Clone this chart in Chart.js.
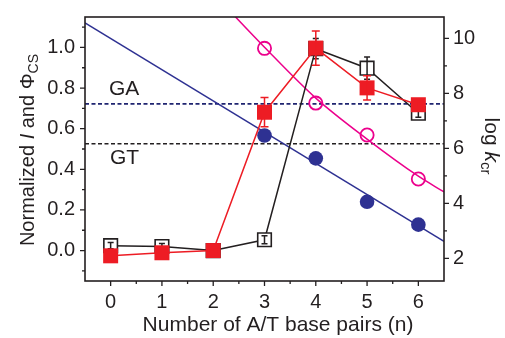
<!DOCTYPE html>
<html><head><meta charset="utf-8">
<script src="https://cdn.jsdelivr.net/npm/chart.js@4.4.0/dist/chart.umd.min.js"></script>
<style>html,body{margin:0;padding:0;background:#fff;} #wrap{width:505px;height:338px;position:relative;}</style>
</head><body><div id="wrap"><canvas id="c"></canvas></div>
<script>
// ---- data ----
const nValues = [0, 1, 2, 3, 4, 5, 6];
const normI = [0.024, 0.02, 0.0, 0.053, 0.994, 0.898, 0.676];
const normIErr = [0.015, 0.015, 0.01, 0.02, 0.05, 0.055, 0.02];
const phiCS = [-0.026, -0.011, 0.0, 0.681, 0.997, 0.801, 0.718];
const phiCSErr = [0, 0, 0.005, 0.072, 0.084, 0.06, 0.015];
const nK = [3, 4, 5, 6];
const logKcrBlue = [6.47, 5.64, 4.06, 3.23];
const logKcrMagenta = [9.64, 7.65, 6.49, 4.89];
const fitBlueX = [-0.5, 6.5];
const fitBlue = [10.57, 2.62];
const fitMagX = [2.0, 3, 4, 5, 6, 6.5];
const fitMagenta = [11.64, 9.68, 7.83, 6.34, 4.99, 4.42];
const levelX = [-0.5, 6.5];
const gaLevel = 7.62;
const gtLevel = 6.17;
const xTicks = [0, 1, 2, 3, 4, 5, 6];
const xMinor = [0.5, 1.5, 2.5, 3.5, 4.5, 5.5];
const yLeftTicks = [0, 0.2, 0.4, 0.6, 0.8, 1.0];
const yLeftMinor = [-0.1, 0.1, 0.3, 0.5, 0.7, 0.9, 1.1];
const yRightTicks = [2, 4, 6, 8, 10];
const yRightMinor = [1, 3, 5, 7, 9];

const FONT = "'Liberation Sans', Arial, sans-serif";
const RED = '#ed1c24', NAVY = '#2e3192', MAG = '#ec008c', BLK = '#231f20', DASHNAVY = '#1f2470';
const pts = (xs, ys) => xs.map((x, i) => ({x: x, y: ys[i]}));

const errPlugin = {
  id: 'errbars',
  afterDatasetDraw(chart, args) {
    const ds = chart.data.datasets[args.index];
    if (!ds.errors) return;
    const ctx = chart.ctx, xs = chart.scales.x, ys = chart.scales.y;
    ctx.save();
    ctx.strokeStyle = ds.borderColor; ctx.lineWidth = 1.5;
    ds.data.forEach((p, i) => {
      const e = ds.errors[i]; if (!e) return;
      const px = xs.getPixelForValue(p.x);
      const y1 = ys.getPixelForValue(p.y + e), y2 = ys.getPixelForValue(p.y - e);
      const w = ds.capHalf;
      ctx.beginPath();
      ctx.moveTo(px, y1); ctx.lineTo(px, y2);
      ctx.moveTo(px - w, y1); ctx.lineTo(px + w, y1);
      ctx.moveTo(px - w, y2); ctx.lineTo(px + w, y2);
      ctx.stroke();
    });
    ctx.restore();
  }
};

function drawSegs(ctx, segs) {
  let total = 0;
  segs.forEach(s => { ctx.font = s[1]; total += ctx.measureText(s[0]).width; });
  let x = -total / 2;
  segs.forEach(s => { ctx.font = s[1]; ctx.fillText(s[0], x, s[2]); x += ctx.measureText(s[0]).width; });
}

const framePlugin = {
  id: 'frame',
  afterDraw(chart) {
    const ctx = chart.ctx, a = chart.chartArea;
    const xs = chart.scales.x, yl = chart.scales.y, yr = chart.scales.y2;
    ctx.save();
    ctx.strokeStyle = BLK; ctx.lineWidth = 1.3;
    ctx.beginPath();
    xTicks.forEach(v => { const p = xs.getPixelForValue(v); ctx.moveTo(p, a.bottom); ctx.lineTo(p, a.bottom + 5); });
    xMinor.forEach(v => { const p = xs.getPixelForValue(v); ctx.moveTo(p, a.bottom); ctx.lineTo(p, a.bottom + 3); });
    yLeftTicks.forEach(v => { const p = yl.getPixelForValue(v); ctx.moveTo(a.left, p); ctx.lineTo(a.left - 5, p); });
    yLeftMinor.forEach(v => { const p = yl.getPixelForValue(v); ctx.moveTo(a.left, p); ctx.lineTo(a.left - 3, p); });
    yRightTicks.forEach(v => { const p = yr.getPixelForValue(v); ctx.moveTo(a.right, p); ctx.lineTo(a.right + 5, p); });
    yRightMinor.forEach(v => { const p = yr.getPixelForValue(v); if (p <= a.bottom + 0.5) { ctx.moveTo(a.right, p); ctx.lineTo(a.right + 3, p); } });
    ctx.stroke();
    ctx.lineWidth = 1.6;
    ctx.strokeRect(a.left, a.top, a.right - a.left, a.bottom - a.top);

    ctx.fillStyle = BLK;
    ctx.textBaseline = 'alphabetic';
    ctx.textAlign = 'left';
    ctx.font = '21px ' + FONT;
    ctx.fillText('GA', 109, 95);
    ctx.fillText('GT', 110, 164);

    // x title
    ctx.textAlign = 'center';
    ctx.fillText('Number of A/T base pairs (n)', 278, 331);

    // left title
    ctx.textAlign = 'left';
    ctx.save();
    ctx.translate(34, 150);
    ctx.rotate(-Math.PI / 2);
    drawSegs(ctx, [
      ['Normalized ', '20px ' + FONT, 0],
      ['I', 'italic 20px ' + FONT, 0],
      [' and \u03A6', '20px ' + FONT, 0],
      ['CS', '14px ' + FONT, 4]
    ]);
    ctx.restore();

    // right title
    ctx.save();
    ctx.translate(485, 146);
    ctx.rotate(Math.PI / 2);
    drawSegs(ctx, [
      ['log ', '21px ' + FONT, 0],
      ['k', 'italic 21px ' + FONT, 0],
      ['cr', '15px ' + FONT, 4]
    ]);
    ctx.restore();
    ctx.restore();
  }
};

const tickFont = {family: FONT, size: 20};
new Chart(document.getElementById('c'), {
  type: 'line',
  data: {
    datasets: [
      { label: 'phiCS', data: pts(nValues, phiCS), errors: phiCSErr, capHalf: 4,
        borderColor: RED, backgroundColor: RED, borderWidth: 1.5,
        pointStyle: 'rect', pointRadius: 10.6, pointBorderWidth: 0, yAxisID: 'y', order: 0 },
      { label: 'normI', data: pts(nValues, normI), errors: normIErr, capHalf: 3,
        borderColor: BLK, backgroundColor: '#ffffff', borderWidth: 1.5,
        pointStyle: 'rect', pointRadius: 9.6, pointBorderWidth: 1.6, yAxisID: 'y', order: 1 },
      { label: 'blue', data: pts(nK, logKcrBlue), showLine: false,
        borderColor: NAVY, backgroundColor: NAVY, pointRadius: 7.3, pointBorderWidth: 0, yAxisID: 'y2', order: 2 },
      { label: 'magenta', data: pts(nK, logKcrMagenta), showLine: false,
        borderColor: MAG, backgroundColor: 'rgba(0,0,0,0)', pointRadius: 6.6, pointBorderWidth: 1.8, yAxisID: 'y2', order: 3 },
      { label: 'fitBlue', data: pts(fitBlueX, fitBlue), borderColor: NAVY, borderWidth: 1.5, pointRadius: 0, yAxisID: 'y2', order: 4, clip: 0 },
      { label: 'fitMag', data: pts(fitMagX, fitMagenta), borderColor: MAG, borderWidth: 1.5, pointRadius: 0, yAxisID: 'y2', order: 5, clip: 0,
        cubicInterpolationMode: 'monotone' },
      { label: 'GA', data: pts(levelX, [gaLevel, gaLevel]), borderColor: DASHNAVY, borderWidth: 1.6, borderDash: [4, 2.5], pointRadius: 0, yAxisID: 'y2', order: 6, clip: 0 },
      { label: 'GT', data: pts(levelX, [gtLevel, gtLevel]), borderColor: BLK, borderWidth: 1.6, borderDash: [4, 2.5], pointRadius: 0, yAxisID: 'y2', order: 7, clip: 0 }
    ]
  },
  options: {
    responsive: true, maintainAspectRatio: false, animation: false,
    layout: { padding: { top: 11, left: 0, right: 0, bottom: 0 } },
    plugins: { legend: { display: false }, tooltip: { enabled: false } },
    elements: { line: { tension: 0 } },
    scales: {
      x: { type: 'linear', min: -0.5, max: 6.5,
        afterBuildTicks: s => { s.ticks = xTicks.map(v => ({value: v})); },
        afterFit: s => { s.height = 57; },
        ticks: { font: tickFont, color: BLK, padding: 4, maxRotation: 0, autoSkip: false, callback: v => String(v) },
        grid: { display: true, drawOnChartArea: false, drawTicks: true, tickLength: 5, tickColor: 'rgba(0,0,0,0)' },
        border: { display: false } },
      y: { type: 'linear', position: 'left', min: -0.15, max: 1.15,
        afterBuildTicks: s => { s.ticks = yLeftTicks.map(v => ({value: v})); },
        afterFit: s => { s.width = 85; },
        ticks: { font: tickFont, color: BLK, padding: 5, autoSkip: false, callback: v => v.toFixed(1) },
        grid: { display: true, drawOnChartArea: false, drawTicks: true, tickLength: 5, tickColor: 'rgba(0,0,0,0)' },
        border: { display: false } },
      y2: { type: 'linear', position: 'right', min: 1.18, max: 10.78,
        afterBuildTicks: s => { s.ticks = yRightTicks.map(v => ({value: v})); },
        afterFit: s => { s.width = 61; },
        ticks: { font: tickFont, color: BLK, padding: 4, autoSkip: false, callback: v => String(v) },
        grid: { display: true, drawOnChartArea: false, drawTicks: true, tickLength: 5, tickColor: 'rgba(0,0,0,0)' },
        border: { display: false } }
    }
  },
  plugins: [errPlugin, framePlugin]
});
</script></body></html>
